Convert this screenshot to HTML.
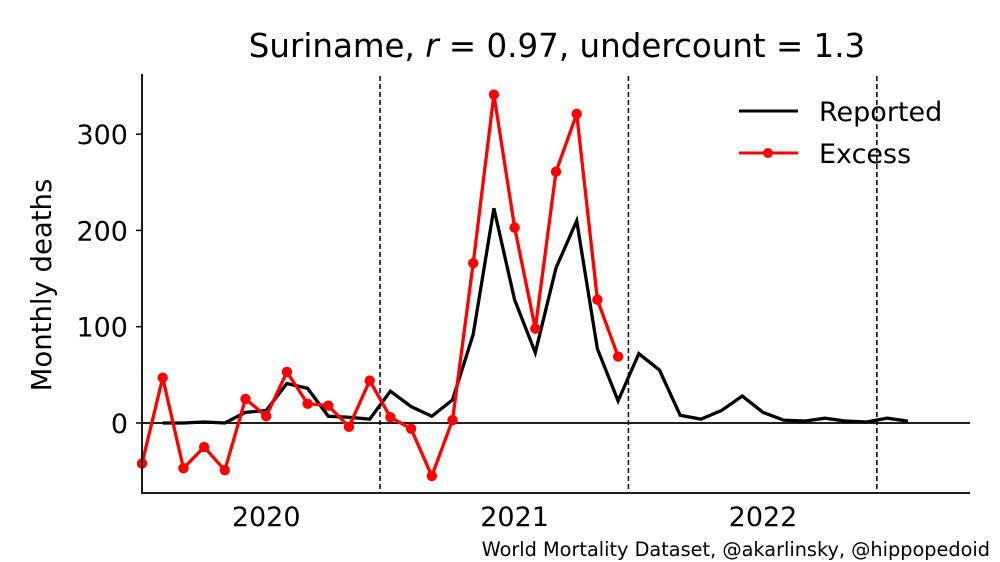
<!DOCTYPE html>
<html><head><meta charset="utf-8"><style>
body{margin:0;background:#fff}
svg{display:block;font-family:"DejaVu Sans","Liberation Sans",sans-serif}
</style></head><body>
<svg id="chart" width="1000" height="562" viewBox="0 0 1000 562">
<text x="557" y="57" font-size="32.5" text-anchor="middle">Suriname, <tspan font-style="italic">r</tspan> = 0.97, undercount = 1.3</text>
<text transform="translate(51,285) rotate(-90)" font-size="27.5" text-anchor="middle">Monthly deaths</text>
<text x="990" y="556" font-size="19.3" text-anchor="end">World Mortality Dataset, @akarlinsky, @hippopedoid</text>
<g id="plot"></g>
<g>
<line x1="739" y1="111" x2="798" y2="111" stroke="#000" stroke-width="3"/>
<text x="819" y="121" font-size="27">Reported</text>
<line x1="739" y1="153" x2="798" y2="153" stroke="#f00" stroke-width="3"/>
<circle cx="768" cy="153" r="5" fill="#f00"/>
<text x="819" y="163" font-size="27">Excess</text>
</g>
</svg>
<script>
const excess = [-42,47,-47,-25,-49,25,7,53,20,18,-4,44,6,-6,-55,3,166,341,203,98,261,321,128,69];
const reported = [0,0,1,0,11,13,41,36,7,6,4,33,17,7,24,92,223,128,73,161,210,77,23,72,55,8,4,13,28,11,3,2,5,2,1,5,2];
const reportedStart = 1;
const yTicks = [0,100,200,300];
const yearLabels = ["2020","2021","2022"];
const yearIdx = [6,18,30];
const dashedIdx = [11.5,23.5,35.5];

const NS="http://www.w3.org/2000/svg";
const g=document.getElementById('plot');
const X0=142, X1=970, Y0=74, Y1=493;
const xs=i=>142+i*20.7;
const ys=v=>423-v*0.963;
function el(t,a){const e=document.createElementNS(NS,t);for(const k in a)e.setAttribute(k,a[k]);g.appendChild(e);return e;}

dashedIdx.forEach(d=>{const e=el('line',{x1:xs(d),x2:xs(d),y1:Y0+2,y2:Y1,stroke:'#000','stroke-width':1.5,'stroke-dasharray':'5,3'});

});

const z=el('line',{x1:X0,x2:X1,y1:ys(0),y2:ys(0),stroke:'#000','stroke-width':1.8});



const rp=el('polyline',{points:reported.map((v,i)=>xs(i+reportedStart)+','+ys(v)).join(' '),fill:'none',stroke:'#000','stroke-width':3.3});



const ep=el('polyline',{points:excess.map((v,i)=>xs(i)+','+ys(v)).join(' '),fill:'none',stroke:'#f00','stroke-width':3.3});


excess.forEach((v,i)=>{const c=el('circle',{cx:xs(i),cy:ys(v),r:5.2,fill:'#f00'});

});

const ax=el('path',{d:`M${X0} ${Y0} V${Y1} H${X1}`,fill:'none',stroke:'#000','stroke-width':1.8});



yTicks.forEach(v=>{const t=el('line',{x1:X0-6,x2:X0,y1:ys(v),y2:ys(v),stroke:'#000','stroke-width':1.5});


const tx=el('text',{x:X0-14,y:ys(v)+10,'font-size':27,'text-anchor':'end'});tx.textContent=v;

});

yearLabels.forEach((l,k)=>{const tx=el('text',{x:xs(yearIdx[k]),y:526,'font-size':27,'text-anchor':'middle'});tx.textContent=l;

});
</script>
</body></html>
